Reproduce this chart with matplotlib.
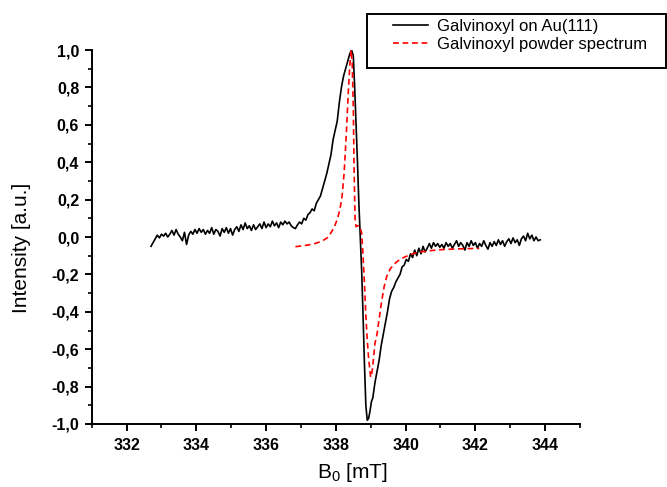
import matplotlib
matplotlib.use("Agg")
import matplotlib.pyplot as plt
from matplotlib.patches import Rectangle
from matplotlib.ticker import MultipleLocator, FuncFormatter

plt.rcParams['font.family'] = ['Liberation Sans', 'DejaVu Sans']
plt.rcParams['mathtext.fontset'] = 'custom'
plt.rcParams['mathtext.rm'] = 'Liberation Sans'
plt.rcParams['mathtext.it'] = 'Liberation Sans'

# Galvinoxyl on Au(111)
b_au = [332.70, 332.76, 332.82, 332.88, 332.94, 333.00, 333.06, 333.12, 333.18, 333.24,
        333.30, 333.36, 333.42, 333.48, 333.54, 333.60, 333.66, 333.72, 333.78, 333.84,
        333.90, 333.96, 334.02, 334.08, 334.14, 334.20, 334.26, 334.32, 334.38, 334.44,
        334.50, 334.56, 334.62, 334.68, 334.74, 334.80, 334.86, 334.92, 334.98, 335.04,
        335.10, 335.16, 335.22, 335.28, 335.34, 335.40, 335.46, 335.52, 335.58, 335.64,
        335.70, 335.76, 335.82, 335.88, 335.94, 336.00, 336.06, 336.12, 336.18, 336.24,
        336.30, 336.36, 336.42, 336.48, 336.54, 336.60, 336.66, 336.72, 336.78, 336.84,
        336.90, 336.96, 337.02, 337.08, 337.14, 337.20, 337.26, 337.32, 337.38, 337.44,
        337.50, 337.56, 337.62, 337.68, 337.74, 337.80, 337.86, 337.92, 337.98, 338.04,
        338.10, 338.16, 338.22, 338.28, 338.34, 338.40, 338.45, 338.50, 338.54, 338.58,
        338.62, 338.66, 338.70, 338.74, 338.78, 338.82, 338.86, 338.90, 338.94, 338.98,
        339.02, 339.06, 339.12, 339.18, 339.24, 339.30, 339.36, 339.42, 339.48, 339.54,
        339.60, 339.66, 339.72, 339.78, 339.84, 339.90, 339.96, 340.02, 340.08, 340.14,
        340.20, 340.26, 340.32, 340.38, 340.44, 340.50, 340.56, 340.62, 340.68, 340.74,
        340.80, 340.86, 340.92, 340.98, 341.04, 341.10, 341.16, 341.22, 341.28, 341.34,
        341.40, 341.46, 341.52, 341.58, 341.64, 341.70, 341.76, 341.82, 341.88, 341.94,
        342.00, 342.06, 342.12, 342.18, 342.24, 342.30, 342.36, 342.42, 342.48, 342.54,
        342.60, 342.66, 342.72, 342.78, 342.84, 342.90, 342.96, 343.02, 343.08, 343.14,
        343.20, 343.26, 343.32, 343.38, 343.44, 343.50, 343.56, 343.62, 343.68, 343.74,
        343.80, 343.86]
i_au = [-0.050, -0.030, -0.010, 0.010, -0.005, 0.015, 0.005, 0.020, 0.000, 0.015,
        0.035, 0.010, 0.040, 0.015, 0.000, -0.020, 0.025, -0.040, 0.010, 0.030,
        0.015, 0.040, 0.020, 0.045, 0.025, 0.040, 0.015, 0.035, 0.020, 0.050,
        0.015, 0.040, 0.030, 0.005, 0.045, 0.025, 0.050, 0.020, 0.045, 0.010,
        0.040, 0.055, 0.030, 0.065, 0.040, 0.075, 0.045, 0.060, 0.035, 0.065,
        0.040, 0.055, 0.070, 0.045, 0.080, 0.050, 0.070, 0.055, 0.085, 0.060,
        0.075, 0.050, 0.080, 0.065, 0.085, 0.070, 0.080, 0.060, 0.050, 0.045,
        0.065, 0.080, 0.070, 0.100, 0.090, 0.120, 0.130, 0.150, 0.140, 0.180,
        0.200, 0.220, 0.260, 0.300, 0.340, 0.390, 0.440, 0.520, 0.570, 0.620,
        0.720, 0.800, 0.860, 0.900, 0.940, 0.980, 1.000, 0.970, 0.800, 0.600,
        0.400, 0.180, 0.000, -0.180, -0.420, -0.680, -0.900, -0.980, -0.970, -0.930,
        -0.880, -0.860, -0.780, -0.720, -0.660, -0.580, -0.520, -0.460, -0.400, -0.330,
        -0.290, -0.270, -0.240, -0.220, -0.200, -0.160, -0.150, -0.120, -0.130, -0.090,
        -0.110, -0.070, -0.100, -0.060, -0.090, -0.050, -0.080, -0.060, -0.035, -0.060,
        -0.030, -0.050, -0.035, -0.055, -0.040, -0.060, -0.030, -0.050, -0.035, -0.060,
        -0.040, -0.020, -0.050, -0.030, -0.045, -0.070, -0.030, -0.050, -0.020, -0.045,
        -0.030, -0.060, -0.035, -0.050, -0.020, -0.045, -0.065, -0.030, -0.050, -0.025,
        -0.045, -0.015, -0.040, -0.020, -0.050, -0.025, -0.010, -0.035, -0.005, -0.030,
        -0.015, -0.045, -0.010, 0.005, -0.020, 0.020, -0.010, 0.010, -0.020, 0.000,
        -0.020, -0.015]

# Galvinoxyl powder spectrum
b_powder = [336.84, 337.00, 337.20, 337.40, 337.60, 337.75, 337.85, 337.95, 338.05, 338.12,
            338.18, 338.24, 338.30, 338.35, 338.40, 338.44, 338.47, 338.50, 338.52, 338.55,
            338.58, 338.62, 338.66, 338.70, 338.74, 338.78, 338.82, 338.86, 338.90, 338.94,
            338.98, 339.00, 339.04, 339.08, 339.12, 339.18, 339.24, 339.30, 339.38, 339.46,
            339.56, 339.70, 339.85, 340.00, 340.20, 340.40, 340.70, 341.00, 341.40, 341.80,
            342.11]
i_powder = [-0.052, -0.048, -0.043, -0.035, -0.022, -0.005, 0.020, 0.050, 0.100, 0.150,
            0.220, 0.350, 0.550, 0.750, 0.920, 1.000, 0.920, 0.700, 0.400, 0.100,
            0.055, 0.060, 0.060, 0.050, 0.020, -0.100, -0.250, -0.420, -0.550, -0.650,
            -0.720, -0.750, -0.720, -0.650, -0.570, -0.520, -0.440, -0.360, -0.270, -0.210,
            -0.170, -0.140, -0.118, -0.105, -0.090, -0.080, -0.073, -0.068, -0.064, -0.062,
            -0.061]

W, H = 667, 487
fig = plt.figure(figsize=(W / 100, H / 100), dpi=100)
ax = fig.add_axes([91.7 / W, 1 - 424 / H, (580 - 91.7) / W, (424 - 50) / H])

ax.plot(b_au, i_au, color='black', lw=1.2, label='Galvinoxyl on Au(111)')
ax.plot(b_powder, i_powder, color='red', lw=1.2, dashes=(3.5, 2.2),
        label='Galvinoxyl powder spectrum')

ax.set_xlim(331, 345)
ax.set_ylim(-1.0, 1.0)
ax.xaxis.set_major_locator(MultipleLocator(2))
ax.xaxis.set_minor_locator(MultipleLocator(1))
ax.yaxis.set_major_locator(MultipleLocator(0.2))
ax.yaxis.set_minor_locator(MultipleLocator(0.1))
ax.yaxis.set_major_formatter(FuncFormatter(lambda v, p: f"{v:.1f}".replace('.', ',')))
ax.xaxis.set_major_formatter(FuncFormatter(lambda v, p: f"{v:.0f}"))

for s in ['top', 'right']:
    ax.spines[s].set_visible(False)
for s in ['left', 'bottom']:
    ax.spines[s].set_linewidth(1.4)

ax.tick_params(which='major', direction='out', length=5, width=1.4, labelsize=11.5)
ax.tick_params(axis='x', which='major', pad=5)
ax.tick_params(axis='y', which='major', pad=4)
ax.tick_params(which='minor', direction='out', length=3, width=1.2)
for lbl in ax.get_xticklabels() + ax.get_yticklabels():
    lbl.set_fontweight('bold')

ax.set_xlabel('B$_0$ [mT]', fontsize=15)
ax.set_ylabel('Intensity [a.u.]', fontsize=15)
ax.xaxis.set_label_coords((352 - 91.7) / (580 - 91.7), -37 / 374)
ax.yaxis.set_label_coords(-(91.7 - 31) / (580 - 91.7), (424 - 248) / 374)

# legend box like the original (sits partly outside the axes)
fig.patches.append(Rectangle((367 / W, 1 - 68 / H), 299 / W, 54 / H, transform=fig.transFigure,
                             fill=False, edgecolor='black', lw=1.4))
fig.legend(loc='upper left', bbox_to_anchor=(393 / W, 1 - 19 / H), frameon=False,
           fontsize=12, handlelength=2.1, handletextpad=0.55, labelspacing=0.15, borderpad=0,
           borderaxespad=0)

fig.savefig('out.png', dpi=100)
